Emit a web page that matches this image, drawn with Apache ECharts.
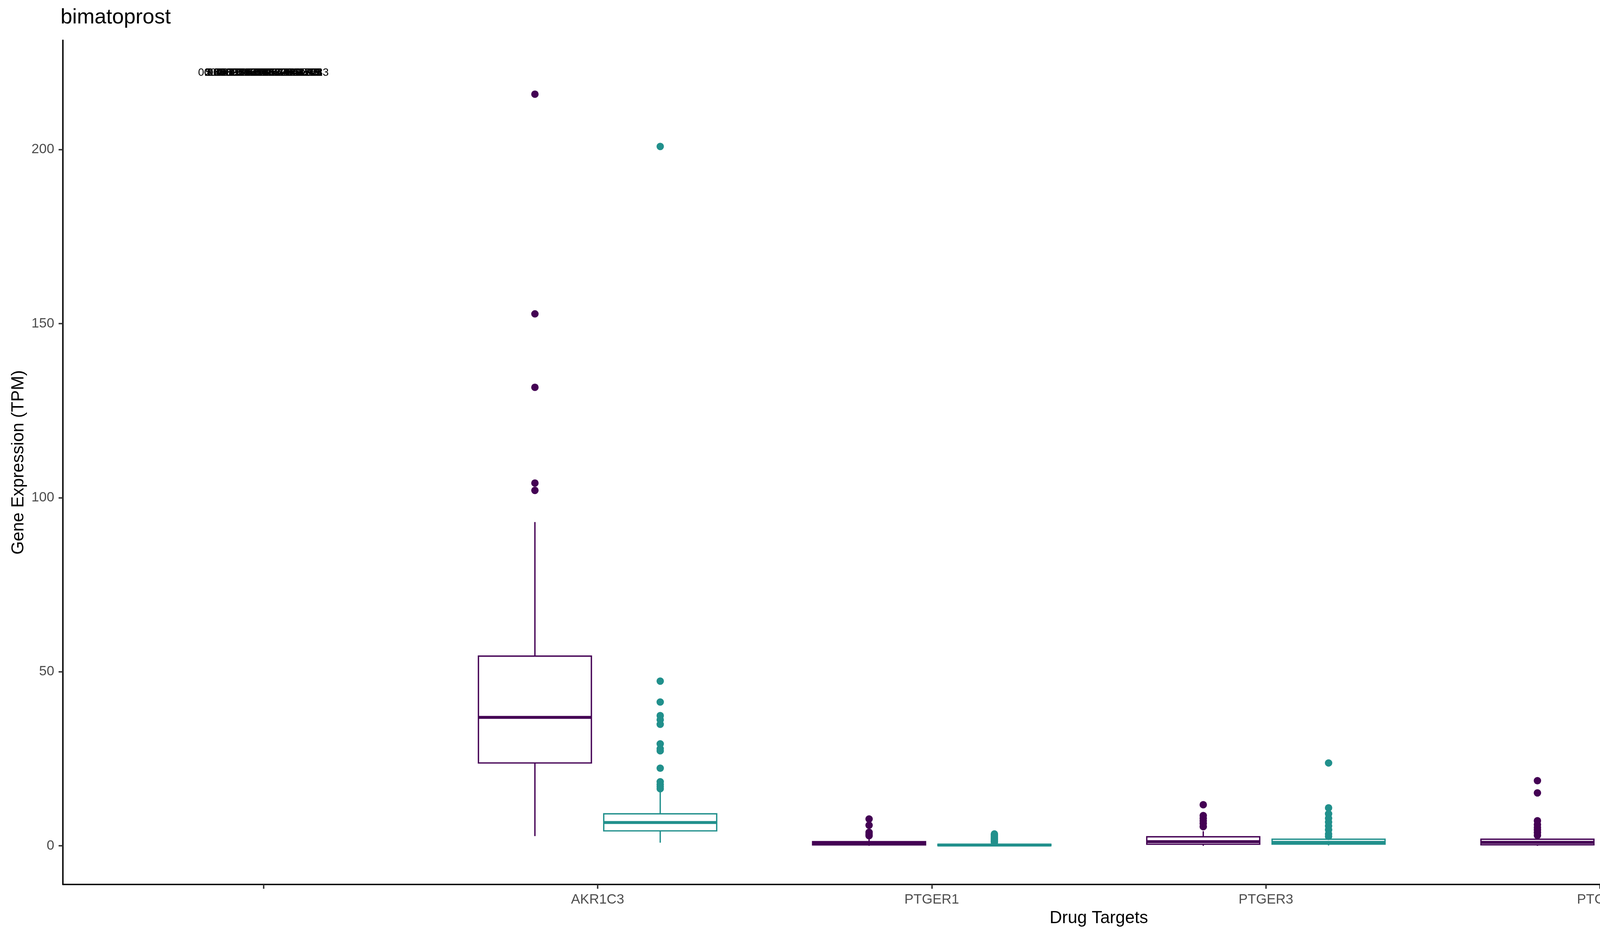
<!DOCTYPE html>
<html>
<head>
<meta charset="utf-8">
<script src="https://cdn.jsdelivr.net/npm/echarts@6/dist/echarts.min.js"></script>
<style>html,body{margin:0;padding:0;background:#fff;}#chart{width:6000px;height:2400px;}</style>
</head>
<body>
<div id="chart"></div>
<script>
// ---------------- data ----------------
const categories = ['', 'AKR1C3', 'PTGER1', 'PTGER3', 'PTGFR', 'PTGIR'];
const seriesNames = ['Primary Tumor', 'Solid Tissue Normal'];
const yTicks = [0, 50, 100, 150, 200];

// box statistics: [category, lower whisker, Q1, median, Q3, upper whisker]
const tumorBoxes = [
  ['AKR1C3', 2.8, 23.8, 36.9, 54.5, 93.0],
  ['PTGER1', 0.0, 0.25, 0.6, 1.2, 2.6],
  ['PTGER3', 0.0, 0.45, 1.2, 2.6, 4.2],
  ['PTGFR', 0.0, 0.3, 1.0, 1.9, 2.5],
  ['PTGIR', 0.0, 3.1, 4.7, 7.1, 11.6]
];
const normalBoxes = [
  ['AKR1C3', 0.9, 4.3, 6.7, 9.2, 15.6],
  ['PTGER1', 0.0, 0.05, 0.2, 0.45, 0.9],
  ['PTGER3', 0.1, 0.5, 1.0, 1.9, 2.3],
  ['PTGFR', 0.0, 0.1, 0.5, 1.0, 1.5],
  ['PTGIR', 0.15, 0.9, 1.9, 3.1, 5.3]
];
// outliers: [category, value]
const tumorOutliers = [
  ['AKR1C3', 215.9], ['AKR1C3', 152.8], ['AKR1C3', 131.7], ['AKR1C3', 104.2], ['AKR1C3', 102.1],
  ['PTGER1', 7.7], ['PTGER1', 5.9], ['PTGER1', 3.9], ['PTGER1', 3.4], ['PTGER1', 2.9],
  ['PTGER3', 11.8], ['PTGER3', 8.7], ['PTGER3', 7.9], ['PTGER3', 7.2], ['PTGER3', 6.4], ['PTGER3', 5.5],
  ['PTGFR', 18.7], ['PTGFR', 15.2], ['PTGFR', 7.2], ['PTGFR', 6.1], ['PTGFR', 5.3], ['PTGFR', 4.6], ['PTGFR', 3.8], ['PTGFR', 3.0],
  ['PTGIR', 13.6]
];
const normalOutliers = [
  ['AKR1C3', 200.9], ['AKR1C3', 47.3], ['AKR1C3', 41.3], ['AKR1C3', 37.4], ['AKR1C3', 36.2], ['AKR1C3', 34.9],
  ['AKR1C3', 29.3], ['AKR1C3', 27.9], ['AKR1C3', 27.3], ['AKR1C3', 22.3], ['AKR1C3', 18.4], ['AKR1C3', 17.6],
  ['AKR1C3', 17.0], ['AKR1C3', 16.4],
  ['PTGER1', 3.4], ['PTGER1', 3.0], ['PTGER1', 2.6], ['PTGER1', 2.2], ['PTGER1', 1.8], ['PTGER1', 1.5], ['PTGER1', 1.2], ['PTGER1', 1.0],
  ['PTGER3', 23.8], ['PTGER3', 10.9], ['PTGER3', 9.2], ['PTGER3', 7.9], ['PTGER3', 6.8], ['PTGER3', 5.7], ['PTGER3', 4.6], ['PTGER3', 3.4], ['PTGER3', 2.7],
  ['PTGFR', 8.9], ['PTGFR', 7.6], ['PTGFR', 4.2], ['PTGFR', 3.1], ['PTGFR', 1.9],
  ['PTGIR', 41.5], ['PTGIR', 39.5], ['PTGIR', 34.1], ['PTGIR', 18.2], ['PTGIR', 14.5], ['PTGIR', 12.8],
  ['PTGIR', 11.3], ['PTGIR', 10.0], ['PTGIR', 8.9], ['PTGIR', 7.7], ['PTGIR', 6.8], ['PTGIR', 6.1]
];
// overlapping text labels drawn at the blank category
const pValueLabels = [
  '0.00000192574270243713',
  '0.00192574270243713',
  '1.29803671557245e-05',
  '0.000231841932943104',
  '2.84137429716363e-13',
  '0.00712895437462019',
  '5.40192837461205e-09',
  '0.0327461958234876',
  '0.8325190641893',
  '0.000010934879261528',
  '3.1957208463e-17'
];
const pValueCategory = '';
const pValueY = 222;

// ---------------- styling ----------------
const FONT = '"Liberation Sans", Arial, Helvetica, sans-serif';
const COLORS = ['#440154', '#21908C'];
const DODGE = 0.1875;
const HALF_BOX = 0.169;
const LW = 3.4;

function catPos(name) { return categories.indexOf(name) + 1; }

function boxRenderer(offset, color) {
  return function (params, api) {
    const x = api.value(0) + offset;
    const lo = api.value(1), q1 = api.value(2), md = api.value(3), q3 = api.value(4), hi = api.value(5);
    const tl = api.coord([x - HALF_BOX, q3]);
    const br = api.coord([x + HALF_BOX, q1]);
    const mL = api.coord([x - HALF_BOX, md]);
    const mR = api.coord([x + HALF_BOX, md]);
    const pHi = api.coord([x, hi]);
    const pQ3 = api.coord([x, q3]);
    const pQ1 = api.coord([x, q1]);
    const pLo = api.coord([x, lo]);
    return {
      type: 'group',
      children: [
        { type: 'line', shape: { x1: pHi[0], y1: pHi[1], x2: pQ3[0], y2: pQ3[1] }, style: { stroke: color, lineWidth: LW } },
        { type: 'line', shape: { x1: pQ1[0], y1: pQ1[1], x2: pLo[0], y2: pLo[1] }, style: { stroke: color, lineWidth: LW } },
        { type: 'rect', shape: { x: tl[0], y: tl[1], width: br[0] - tl[0], height: br[1] - tl[1] },
          style: { fill: '#ffffff', stroke: color, lineWidth: LW, lineJoin: 'miter' } },
        { type: 'line', shape: { x1: mL[0], y1: mL[1], x2: mR[0], y2: mR[1] }, style: { stroke: color, lineWidth: LW * 2.2 } }
      ]
    };
  };
}

const legendIcon = 'path://M26.5 0h4v12h-4Z M0 11h57v4h-57Z M0 11h4v40h-4Z M53 11h4v40h-4Z M0 47h57v4h-57Z M0 29h57v4h-57Z M26.5 50h4v10h-4Z';

const chart = echarts.init(document.getElementById('chart'), null, { renderer: 'canvas' });

const option = {
  backgroundColor: '#ffffff',
  animation: false,
  color: COLORS,
  textStyle: { fontFamily: FONT },
  title: [
    { text: 'bimatoprost', left: 155, top: 18, padding: 0,
      textStyle: { fontFamily: FONT, fontSize: 54, fontWeight: 'normal', color: '#000' } },
    { text: 'Sample Type', left: 5538, top: 1078, padding: 0,
      textStyle: { fontFamily: FONT, fontSize: 44, fontWeight: 'normal', color: '#000' } }
  ],
  legend: {
    data: seriesNames,
    orient: 'vertical',
    left: 5544,
    top: 1151,
    padding: 0,
    itemWidth: 57,
    itemHeight: 60,
    itemGap: 12,
    icon: legendIcon,
    itemStyle: { borderWidth: 0 },
    textStyle: { fontFamily: FONT, fontSize: 35, color: '#000', padding: [0, 0, 0, 27] },
    selectedMode: false
  },
  grid: { left: 161, right: 535, top: 103, bottom: 137, containLabel: false },
  xAxis: {
    type: 'value',
    min: 0.4,
    max: 6.6,
    name: 'Drug Targets',
    nameLocation: 'middle',
    nameGap: 65,
    nameTextStyle: { fontFamily: FONT, fontSize: 44, color: '#000' },
    axisLine: { onZero: false, lineStyle: { color: '#000', width: 3.6 } },
    axisTick: { show: true, customValues: categories.map((c, i) => i + 1), length: 11, lineStyle: { color: '#333333', width: 3.6 } },
    axisLabel: {
      customValues: categories.map((c, i) => i + 1),
      formatter: v => categories[Math.round(v) - 1],
      fontFamily: FONT, fontSize: 35, color: '#4D4D4D', margin: 22
    },
    splitLine: { show: false }
  },
  yAxis: {
    type: 'value',
    min: -11.1,
    max: 231.4,
    name: 'Gene Expression (TPM)',
    nameLocation: 'middle',
    nameGap: 88,
    nameTextStyle: { fontFamily: FONT, fontSize: 44, color: '#000' },
    axisLine: { show: true, onZero: false, lineStyle: { color: '#000', width: 3.6 } },
    axisTick: { show: true, customValues: yTicks, length: 11, lineStyle: { color: '#333333', width: 3.6 } },
    axisLabel: { customValues: yTicks, fontFamily: FONT, fontSize: 35, color: '#4D4D4D', margin: 22 },
    splitLine: { show: false }
  },
  series: [
    {
      name: seriesNames[0],
      type: 'custom',
      itemStyle: { color: COLORS[0] },
      renderItem: boxRenderer(-DODGE, COLORS[0]),
      encode: { x: 0, y: [1, 2, 3, 4, 5] },
      data: tumorBoxes.map(b => [catPos(b[0]), b[1], b[2], b[3], b[4], b[5]]),
      z: 2
    },
    {
      name: seriesNames[1],
      type: 'custom',
      itemStyle: { color: COLORS[1] },
      renderItem: boxRenderer(DODGE, COLORS[1]),
      encode: { x: 0, y: [1, 2, 3, 4, 5] },
      data: normalBoxes.map(b => [catPos(b[0]), b[1], b[2], b[3], b[4], b[5]]),
      z: 2
    },
    {
      name: seriesNames[0] + ' outliers',
      type: 'scatter',
      symbol: 'circle',
      symbolSize: 19,
      itemStyle: { color: COLORS[0], opacity: 1 },
      data: tumorOutliers.map(o => [catPos(o[0]) - DODGE, o[1]]),
      z: 3
    },
    {
      name: seriesNames[1] + ' outliers',
      type: 'scatter',
      symbol: 'circle',
      symbolSize: 19,
      itemStyle: { color: COLORS[1], opacity: 1 },
      data: normalOutliers.map(o => [catPos(o[0]) + DODGE, o[1]]),
      z: 3
    },
    {
      name: 'labels',
      type: 'custom',
      data: pValueLabels.map(t => [catPos(pValueCategory), pValueY]),
      encode: { x: 0, y: 1 },
      renderItem: function (params, api) {
        const p = api.coord([api.value(0), api.value(1)]);
        return {
          type: 'text',
          x: p[0],
          y: p[1],
          style: {
            text: pValueLabels[params.dataIndex],
            fill: '#000',
            fontSize: 28,
            fontFamily: FONT,
            align: 'center',
            verticalAlign: 'middle'
          }
        };
      },
      z: 4
    }
  ]
};
chart.setOption(option);
</script>
</body>
</html>
